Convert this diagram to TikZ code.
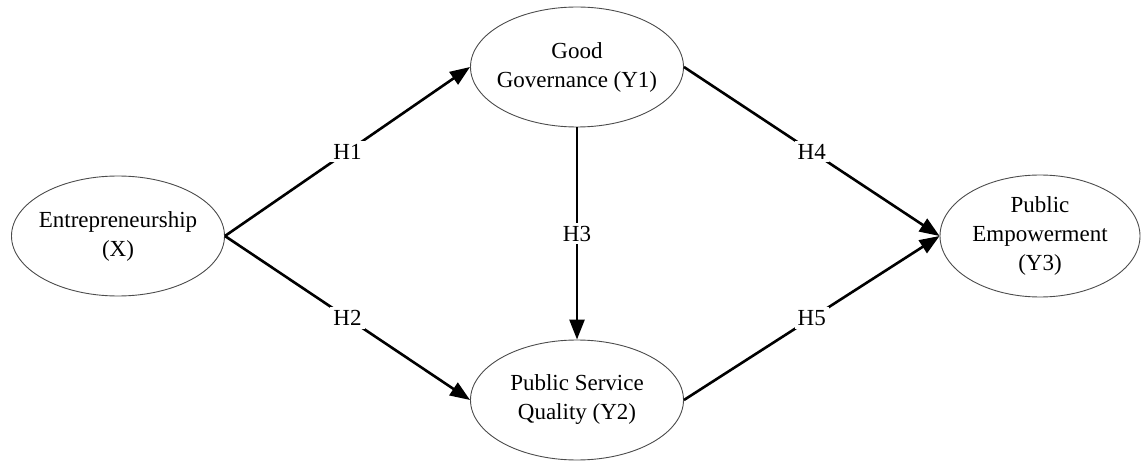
\documentclass[tikz,border=0pt]{standalone}
\usepackage{fontspec}
\setmainfont{Liberation Serif}
\usetikzlibrary{positioning,arrows.meta,shapes.geometric}
\tikzset{
>={Triangle[length=20pt,width=15pt]}, % filled arrow heads
node distance=459pt, % horizontal gap between the columns
every node/.style={font=\fontsize{23}{29}\selectfont,align=center},
on grid
}

\begin{document}
\begin{tikzpicture}[x=1pt,y=1pt,
    construct/.style={ellipse, draw=black!70, line width=0.9pt, inner xsep=-20pt, inner ysep=0pt,
                      minimum width=213pt, minimum height=120pt},
    hyp/.style={fill=white, inner sep=3pt},
    link/.style={->, line width=2.6pt}]
   \useasboundingbox (0,0) rectangle (1145,-462);
   \node[construct] (ent) at (118,-236) {Entrepreneurship\\(X)};
   \node[construct] (gov) [above right=169pt and 459pt of ent] {Good\\Governance (Y1)};
   \node[construct] (psq) [below right=164pt and 459pt of ent] {Public Service\\Quality (Y2)};
   \node[construct] (emp) [right=922pt of ent, minimum width=200pt, minimum height=122pt] {Public\\Empowerment\\(Y3)};
   \path[link]
    (ent.east)  edge node[hyp] {H1} (gov.west)
    (ent.east)  edge node[hyp] {H2} (psq.west)
    (gov.south) edge node[hyp] {H3} (psq.north)
    (gov.east)  edge node[hyp] {H4} (emp.west)
    (psq.east)  edge node[hyp] {H5} (emp.west);
\end{tikzpicture}
\end{document}
